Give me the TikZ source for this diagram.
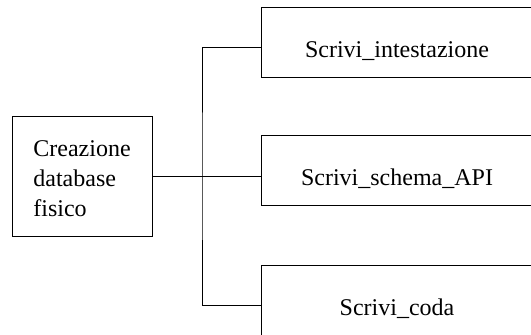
\documentclass[tikz,border=0pt]{standalone}
\usepackage{fontspec}
\setmainfont{Liberation Serif}
\begin{document}
\begin{tikzpicture}[x=1pt,y=-1pt,line width=0.8pt,
  blk/.style={draw,rectangle,minimum width=272pt,minimum height=70pt,inner sep=0pt},
  txt/.style={font=\fontsize{24}{30}\selectfont,inner sep=0pt}]
\useasboundingbox (0,0) rectangle (531,335);
\clip (0,0) rectangle (531,335);
%\draw[step=50,gray,very thin] (0,0) grid (531,335);
\node[draw,rectangle,minimum width=140pt,minimum height=120pt] (crea) at (82,176) {};
\node[txt,align=left] (creaT) at ([yshift=-3pt]crea.center) {Creazione\\database\\fisico};
\node[blk] (intest) at (397,42) {};
\node[blk] (schema) at (397,170.5) {};
\node[blk] (coda) at (397,300) {};
\node[txt] (intestT) at ([yshift=-9pt]intest.center) {Scrivi\_intestazione};
\node[txt] (schemaT) at ([yshift=-8pt]schema.center) {Scrivi\_schema\_API};
\node[txt] (codaT) at ([yshift=-9pt]coda.center) {Scrivi\_coda};
\draw (crea.east) -- ([yshift=-5.5pt]schema.west);
\coordinate (spine) at (202,176);
\draw ([yshift=-5pt]intest.west) -| (spine) |- ([yshift=-5pt]coda.west);
\end{tikzpicture}
\end{document}
